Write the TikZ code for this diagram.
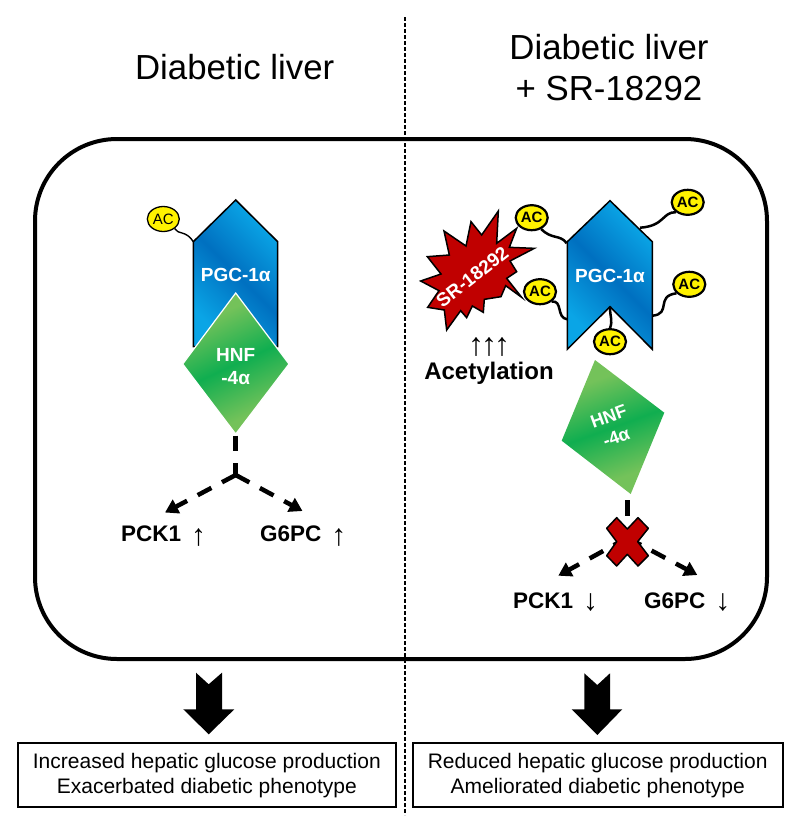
\documentclass[tikz,border=0pt]{standalone}
\usepackage{fontspec}
\setmainfont{Liberation Sans}
\usetikzlibrary{shapes.geometric,arrows.meta}
\newcommand{\fsz}[1]{\fontsize{#1}{#1}\selectfont}
\definecolor{blueL}{HTML}{0AA5E6}
\definecolor{blueD}{HTML}{0070C0}
\definecolor{greenL}{HTML}{74C25A}
\definecolor{greenD}{HTML}{10AE50}
\definecolor{crimson}{HTML}{C00000}
\pgfdeclareverticalshading{bluestripe}{100bp}{color(0bp)=(blueL); color(26bp)=(blueL); color(50bp)=(blueD); color(74bp)=(blueL); color(100bp)=(blueL)}
\pgfdeclareverticalshading{greenstripe}{100bp}{color(0bp)=(greenL); color(30bp)=(greenL); color(50bp)=(greenD); color(70bp)=(greenL); color(100bp)=(greenL)}
\tikzset{
  x=1pt,y=-1pt,
  bluegrad/.style={shade,shading=bluestripe,shading angle=-45,draw=black,line width=1.5pt,line join=miter},
  greengrad/.style={shade,shading=greenstripe,shading angle=25},
  acthin/.style={ellipse,draw=black,fill=yellow,line width=1.3pt,minimum width=32pt,minimum height=25pt,inner sep=0pt,font=\fsz{15}},
  acbold/.style={ellipse,draw=black,fill=yellow,line width=2.2pt,minimum width=32pt,minimum height=25pt,inner sep=0pt,font=\fsz{15}\bfseries},
  tether/.style={line width=2.5pt,black},
  dashline/.style={line width=4.5pt,black,dash pattern=on 15.5pt off 12pt},
  dashtip/.style={dashline,-{Triangle[length=13pt,width=15pt]}},
  whitelabel/.style={text=white,font=\fsz{19}\bfseries,inner sep=0pt},
  genelabel/.style={font=\fsz{22.5},inner sep=0pt,anchor=base west},
  resultbox/.style={draw=black,line width=2pt,fill=white,align=center,font=\fontsize{21}{25}\selectfont,inner sep=0pt,minimum height=64pt},
  title/.style={align=center,font=\fontsize{34.8}{41}\selectfont,inner sep=0pt},
  blockarrow/.style={fill=black,draw=none},
}
\newcommand{\geneup}[1]{\textbf{#1}\kern10pt\raisebox{-4pt}{\fsz{30}↑}}
\newcommand{\genedown}[1]{\textbf{#1}\kern10pt\raisebox{-2pt}{\fsz{30}↓}}
\begin{document}
\begin{tikzpicture}
\useasboundingbox (0,0) rectangle (800,831);
% frame and divider
\draw[line width=4pt,black,rounded corners=82pt] (35,139) rectangle (767,659);
\coordinate (divtop) at (404.5,17);
\coordinate (divbot) at (404.5,815);
\draw[line width=2pt,black,dash pattern=on 4pt off 2pt] (divtop) -- (divbot);
% titles
\node[title] (titleL) at (234.7,67) {Diabetic liver};
\node[title] (titleR) at (609,67.5) {Diabetic liver\\+ SR-18292};

% --- left panel ---
\coordinate (lshoulder) at (193.3,241.7);
\path[bluegrad] (235.7,200) -- (277.7,241.7) -- (277.7,346.7) -- (193.3,346.7) -- (lshoulder) -- cycle;
\node[whitelabel] (pgcL) at (235.7,275) {PGC-1α};
\node[acthin] (acL) at (163.3,219) {AC};
\draw[line width=1.4pt] (acL.320) .. controls (178,235) and (186,230) .. (lshoulder);
\path[greengrad,draw=white,line width=1.2pt] (235.7,293) -- (289,364) -- (235.7,434) -- (182.7,364) -- cycle;
\node[whitelabel,align=center,font=\fontsize{19}{23}\selectfont\bfseries] (hnfL) at (235.7,366.5) {HNF\\-4α};
\coordinate (stemLa) at (235.7,435.7);
\coordinate (jctL) at (235.7,475);
\coordinate (tipLa) at (165,512.5);
\coordinate (tipLb) at (302.5,511);
\draw[dashline] (stemLa) -- (jctL);
\draw[dashtip] (jctL) -- (tipLa);
\draw[dashtip] (jctL) -- (tipLb);
\node[genelabel] (pckL) at (121,541.7) {\geneup{PCK1}};
\node[genelabel] (g6L) at (260,541.7) {\geneup{G6PC}};

% --- right panel ---
\coordinate (notch) at (610,306.7);
\path[bluegrad] (610,200.7) -- (652.3,241.7) -- (652.3,349.3) -- (notch) -- (567.3,349.3) -- (567.3,241.7) -- cycle;
\node[whitelabel] (pgcR) at (610,276) {PGC-1α};
\node[acbold] (ac1) at (531.7,217.7) {AC};
\node[acbold] (ac2) at (687.7,202.3) {AC};
\node[acbold] (ac3) at (540,291.7) {AC};
\node[acbold] (ac4) at (689.3,284.3) {AC};
\node[acbold] (ac5) at (610,341.7) {AC};
\coordinate (p1) at (566.7,243.3);
\coordinate (p2) at (640,227.7);
\coordinate (p3) at (567.3,319.3);
\coordinate (p4) at (652.3,315.7);
\draw[tether] (ac1.-50) .. controls (552,240) and (560,234) .. (p1);
\draw[tether] (p2) .. controls (665,226) and (662,212) .. (ac2.-140);
\draw[tether] (ac3.-40) .. controls (563,300) and (556,318) .. (p3);
\draw[tether] (p4) .. controls (672,314) and (655,296) .. (ac4.-145);
\draw[tether] (notch) .. controls (610,318) and (613,320) .. (ac5.north);

% star
\begin{scope}[shift={(415,200)},x=0.33333pt,y=-0.33333pt]
\draw[fill=crimson,draw=black,line width=1.5pt,line join=miter]
 (250,33)--(200,105)--(168,65)--(153,138)--(87,93)--(103,165)--(37,170)--(78,222)--(17,243)--(72,272)--(38,322)--(88,330)--(95,390)--(137,332)--(155,353)--(172,318)--(205,337)--(208,298)--(258,290)--(272,257)--(320,292)--(275,235)--(305,215)--(285,183)--(358,145)--(283,142)--(305,85)--(245,130)--cycle;
\end{scope}
\node[whitelabel,rotate=38] (sr) at (472.3,276.7) {SR-18292};
\node[font=\fsz{32},inner sep=0pt] (arrowsR) at (489,347) {↑\kern-3pt↑\kern-3pt↑};
\node[font=\fsz{24}\bfseries,inner sep=0pt] (acet) at (489,373) {Acetylation};

% right diamond
\path[greengrad,shading angle=20] (595,360) -- (664.3,412.7) -- (630.7,494) -- (561.7,440.7) -- cycle;
\node[whitelabel,align=center,rotate=20,font=\fontsize{18}{22}\selectfont\bfseries] (hnfR) at (612.5,427) {HNF\\-4α};
\coordinate (stemRa) at (627.3,500);
\coordinate (jctR) at (627.3,537.7);
\coordinate (tipRa) at (558.3,575.7);
\coordinate (tipRb) at (697.3,575);
\draw[dashline] (stemRa) -- (jctR);
\draw[dashtip] (jctR) -- (tipRa);
\draw[dashtip] (jctR) -- (tipRb);
\begin{scope}[shift={(500,350)},x=0.33333pt,y=-0.33333pt]
\draw[fill=crimson,draw=black,line width=1.5pt,line join=round]
 (350,503)--(382,537)--(414,503)--(445,535)--(413,575)--(445,617)--(414,648)--(382,613)--(350,648)--(320,617)--(350,575)--(320,535)--cycle;
\end{scope}
\node[genelabel] (pckR) at (513,608) {\genedown{PCK1}};
\node[genelabel] (g6R) at (644,608) {\genedown{G6PC}};

% block arrows
\fill[blockarrow] (196,672.7) -- (208.7,684.3) -- (222,672.7) -- (222,709.3) -- (234.3,709.3) -- (208.7,734.3) -- (183.3,709.3) -- (196,709.3) -- cycle;
\fill[blockarrow] (584.3,673.3) -- (597.3,685) -- (610,673.3) -- (610,709.3) -- (622.3,709.3) -- (597.3,735) -- (571.7,709.3) -- (584.3,709.3) -- cycle;

% result boxes
\node[resultbox,minimum width=378.3pt] (resL) at (206.85,775.3) {Increased hepatic glucose production\\Exacerbated diabetic phenotype};
\node[resultbox,minimum width=370pt] (resR) at (597.7,775.3) {Reduced hepatic glucose production\\Ameliorated diabetic phenotype};
\end{tikzpicture}
\end{document}
